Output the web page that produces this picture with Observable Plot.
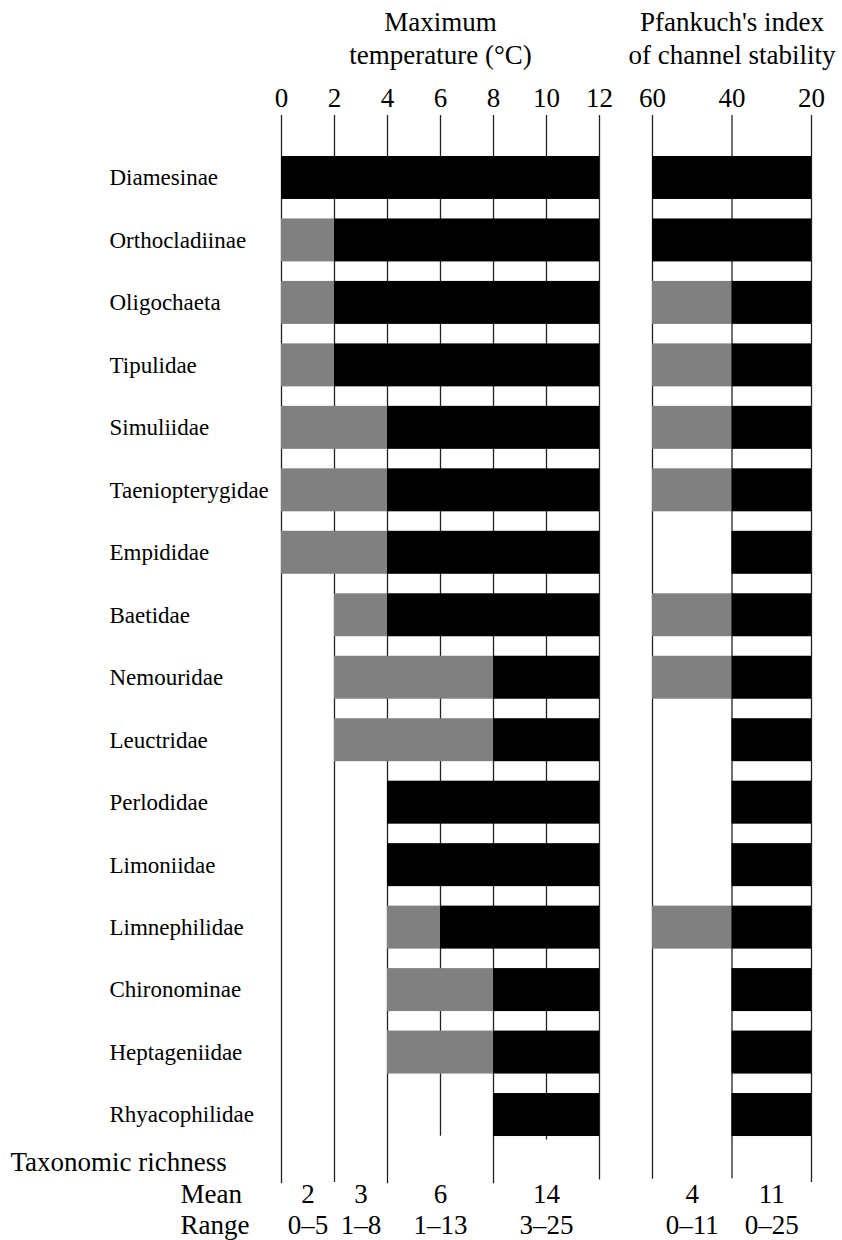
<!DOCTYPE html>
<html><head><meta charset="utf-8">
<script src="https://cdn.jsdelivr.net/npm/d3@7"></script>
<script src="https://cdn.jsdelivr.net/npm/@observablehq/plot@0.6"></script>
<style>body{margin:0;background:#fff} svg text{font-family:"Liberation Serif","Times New Roman",serif !important;}</style>
</head><body><div id="chart"></div>
<script>
// ---- data ----
const taxa = ["Diamesinae","Orthocladiinae","Oligochaeta","Tipulidae","Simuliidae","Taeniopterygidae","Empididae","Baetidae","Nemouridae","Leuctridae","Perlodidae","Limoniidae","Limnephilidae","Chironominae","Heptageniidae","Rhyacophilidae"];
// Maximum temperature (°C): grey segment start, black segment start, end at 12
const tempGrayStart  = [null,0,0,0,0,0,0,2,2,2,null,null,4,4,4,null];
const tempBlackStart = [0,2,2,2,4,4,4,4,8,8,4,4,6,8,8,8];
const tempEnd = 12;
// Pfankuch's index: grey 60–40, black from start to 20
const pfGrayStart  = [null,null,60,60,60,60,null,60,60,null,null,null,60,null,null,null];
const pfBlackStart = [60,60,40,40,40,40,40,40,40,40,40,40,40,40,40,40];
const pfBreak = 40, pfEnd = 20;
// axes
const tempTicks = [0,2,4,6,8,10,12];
const tempGridEnd = [16.1,16.08,16.1,15.34,16.1,15.4,16.04];
const pfTicks = [60,40,20];
const pfGridEnd = [16.03,16.02,16.08];
// taxonomic richness
const richAxis  = ["t","t","t","t","p","p"];
const richFrom  = [0,2,4,8,60,40];
const richTo    = [2,4,8,12,40,20];
const richMean  = ["2","3","6","14","4","11"];
const richRange = ["0–5","1–8","1–13","3–25","0–11","0–25"];

// ---- build ----
const pfX = p => 14 + (60 - p) * 0.15; // place Pfankuch panel on shared x scale
const half = 0.344;
const GREY = "#808080", BLACK = "#000";
const rects = [];
taxa.forEach((t, i) => {
  if (tempGrayStart[i] != null) rects.push({x1: tempGrayStart[i], x2: tempBlackStart[i], i, fill: GREY});
  rects.push({x1: tempBlackStart[i], x2: tempEnd, i, fill: BLACK});
  if (pfGrayStart[i] != null) rects.push({x1: pfX(pfGrayStart[i]), x2: pfX(pfBreak), i, fill: GREY});
  rects.push({x1: pfX(pfBlackStart[i]), x2: pfX(pfEnd), i, fill: BLACK});
});
const grid = [
  ...tempTicks.map((v, k) => ({x: v, top: -1, end: tempGridEnd[k], label: String(v)})),
  ...pfTicks.map((v, k) => ({x: pfX(v), top: -1, end: pfGridEnd[k], label: String(v)}))
];
const rich = richFrom.map((f, k) => {
  const a = richAxis[k] === "p" ? pfX(f) : f;
  const b = richAxis[k] === "p" ? pfX(richTo[k]) : richTo[k];
  return {x: (a + b) / 2, y: 16, mean: richMean[k], range: richRange[k]};
});
const labels = taxa.map((t, i) => ({t, i, x: 0}));
const titles = [{x: 6, y: -1, a: "Maximum", b: "temperature (°C)"}, {x: pfX(40), y: -1, a: "Pfankuch's index", b: "of channel stability"}];
const FONT = "Liberation Serif";
const T = {fill: "#000", fontFamily: FONT};

const chart = Plot.plot({
  width: 842, height: 1240,
  marginTop: 0, marginRight: 0, marginBottom: 0, marginLeft: 0,
  x: {domain: [0, 20], range: [281, 811], axis: null},
  y: {domain: [-1, 16], range: [115, 1177], axis: null},
  style: {fontFamily: FONT, background: "#fff", color: "#000"},
  marks: [
    Plot.ruleX(grid, {x: "x", y1: "top", y2: "end", stroke: "#222", strokeWidth: 1.3}),
    Plot.rect(rects, {x1: "x1", x2: "x2", y1: d => d.i - half, y2: d => d.i + half, fill: "fill"}),
    // tick labels
    Plot.text(grid, {...T, x: "x", y: "top", text: "label", lineAnchor: "bottom", dy: -9, fontSize: 27}),
    // panel titles
    Plot.text(titles, {...T, x: "x", y: "y", text: "a", lineAnchor: "bottom", dy: -85, fontSize: 27}),
    Plot.text(titles, {...T, x: "x", y: "y", text: "b", lineAnchor: "bottom", dy: -52, fontSize: 27}),
    // row labels
    Plot.text(labels, {...T, x: "x", y: "i", text: "t", textAnchor: "start", dx: -172, lineAnchor: "middle", fontSize: 23}),
    // taxonomic richness
    Plot.text([{x: 0, y: 16}], {...T, x: "x", y: "y", text: () => "Taxonomic richness", textAnchor: "start", dx: -271, dy: -7, lineAnchor: "bottom", fontSize: 27}),
    Plot.text([{x: 0, y: 16}], {...T, x: "x", y: "y", text: () => "Mean", textAnchor: "start", dx: -101, dy: 25, lineAnchor: "bottom", fontSize: 27}),
    Plot.text([{x: 0, y: 16}], {...T, x: "x", y: "y", text: () => "Range", textAnchor: "start", dx: -101, dy: 56, lineAnchor: "bottom", fontSize: 27}),
    Plot.text(rich, {...T, x: "x", y: "y", text: "mean", lineAnchor: "bottom", dy: 25, fontSize: 27}),
    Plot.text(rich, {...T, x: "x", y: "y", text: "range", lineAnchor: "bottom", dy: 56, fontSize: 27})
  ]
});
document.getElementById("chart").appendChild(chart);
</script>
</body></html>
